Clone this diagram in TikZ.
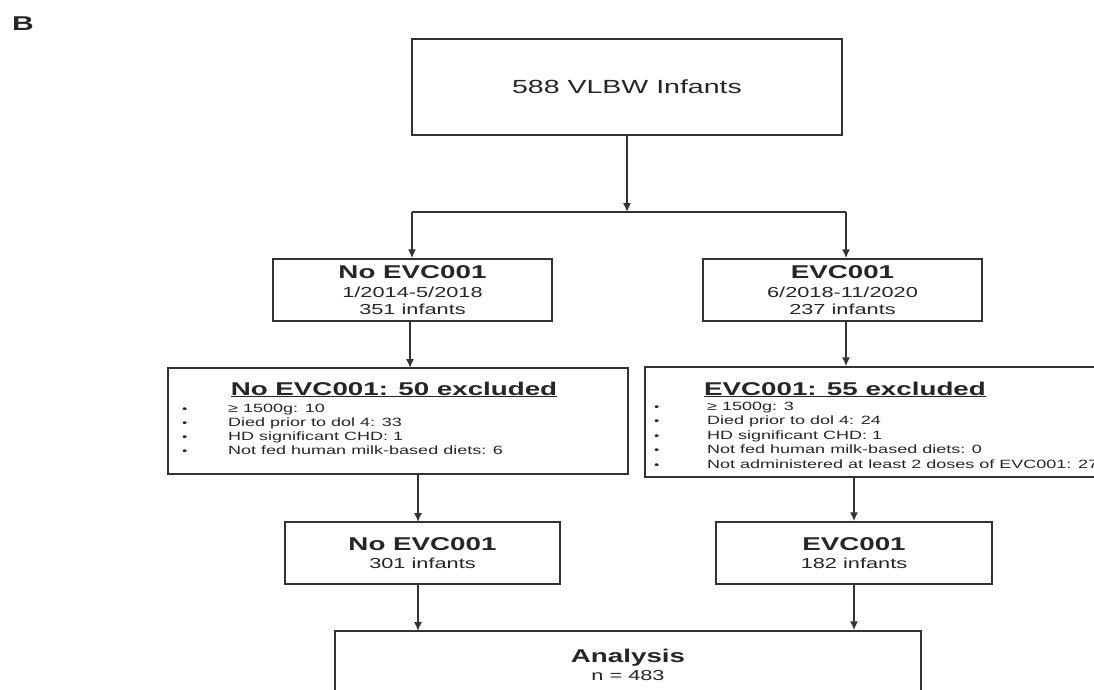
\documentclass[tikz,border=0pt]{standalone}
\usepackage{fontspec}
\setmainfont[FakeStretch=1.5]{Liberation Sans}
\usetikzlibrary{arrows.meta}

\newcommand{\ttlfont}{\fontsize{18.5}{20}\selectfont\bfseries}
\newcommand{\subfont}{\fontsize{14.5}{17}\selectfont}
\newcommand{\itemfont}{\fontsize{12}{14}\selectfont}
\newcommand{\dotitem}{{\fontsize{10}{10}\selectfont •}}

\tikzset{
  box/.style={draw=black!80, line width=1.5pt, inner sep=0pt, align=center, text=black!85},
  arr/.style={draw=black!80, line width=1.5pt, -{Latex[length=9pt,width=8pt]}},
  ln/.style={draw=black!80, line width=1.5pt},
  lbl/.style={inner sep=0pt, text=black!85},
}

\begin{document}
\begin{tikzpicture}[x={(1pt,0pt)}, y={(0pt,-1pt)}]
			\useasboundingbox (0,0) rectangle (1094,689);
			\fill[white] (0,0) rectangle (1094,689);
			\clip (0,0) rectangle (1094,689);
			\node[lbl, font=\fontsize{20}{20}\selectfont\bfseries] (panel) at (23,24) {B};
			% top
			\node[box, minimum width=430pt, minimum height=96pt, font=\fontsize{19}{20}\selectfont] (all) at (627,87) {588 VLBW Infants};
			% two periods
			\node[box, minimum width=279pt, minimum height=62pt, font=\subfont] (noevc) at (412.5,290)
				{{\ttlfont No EVC001}\\[1.5pt] 1/2014-5/2018\\ 351 infants};
			\node[box, minimum width=279pt, minimum height=62pt, font=\subfont] (evc) at (842.5,290)
				{{\ttlfont EVC001}\\[1.5pt] 6/2018-11/2020\\ 237 infants};
			% exclusions
			\node[box, minimum width=460pt, minimum height=106pt] (noexcl) at (398,421) {};
			\node[lbl, anchor=base, font=\ttlfont] (noexclttl) at (394,395) {\underline{No EVC001: 50 excluded}};
			\node[lbl, anchor=base west, font=\itemfont] (noexcllist) at (182,412) {\begin{tabular}[t]{@{}p{46pt}@{}l@{}}
				\dotitem & ≥ 1500g: 10\\
				\dotitem & Died prior to dol 4: 33\\
				\dotitem & HD significant CHD: 1\\
				\dotitem & Not fed human milk-based diets: 6
			\end{tabular}};
			\node[box, minimum width=465pt, minimum height=110pt] (excl) at (877.5,422) {};
			\node[lbl, anchor=base, font=\ttlfont] (exclttl) at (845,395) {\underline{EVC001: 55 excluded}};
			\node[lbl, anchor=base west, font=\fontsize{12}{14.5}\selectfont] (excllist) at (654,410) {\begin{tabular}[t]{@{}p{53pt}@{}l@{}}
				\dotitem & ≥ 1500g: 3\\
				\dotitem & Died prior to dol 4: 24\\
				\dotitem & HD significant CHD: 1\\
				\dotitem & Not fed human milk-based diets: 0\\
				\dotitem & Not administered at least 2 doses of EVC001: 27
			\end{tabular}};
			% final groups
			\node[box, minimum width=275pt, minimum height=62pt, font=\subfont] (noevcfin) at (422.5,553)
				{{\ttlfont No EVC001}\\[1.5pt] 301 infants};
			\node[box, minimum width=276pt, minimum height=62pt, font=\subfont] (evcfin) at (854,553)
				{{\ttlfont EVC001}\\[1.5pt] 182 infants};
			\node[box, minimum width=586pt, minimum height=68pt, font=\subfont] (analysis) at (628,665)
				{{\ttlfont Analysis}\\[1.5pt] n = 483};
			% connectors
			\coordinate (split) at (627,212);
			\coordinate (splitL) at (412,212);
			\coordinate (splitR) at (846,212);
			\draw[arr] (all.south) -- (split);
			\draw[ln] (splitL) -- (splitR);
			\draw[arr] (splitL) -- (splitL |- noevc.north);
			\draw[arr] (splitR) -- (splitR |- evc.north);
			\draw[arr] (410,321) -- (410,368);
			\draw[arr] (splitR |- evc.south) -- (splitR |- excl.north);
			\draw[arr] (418,474) -- (418,522);
			\draw[arr] (evcfin.north |- excl.south) -- (evcfin.north);
			\draw[arr] (418,584) -- (418,631);
			\draw[arr] (evcfin.south) -- (evcfin.south |- analysis.north);
		\end{tikzpicture}
\end{document}
